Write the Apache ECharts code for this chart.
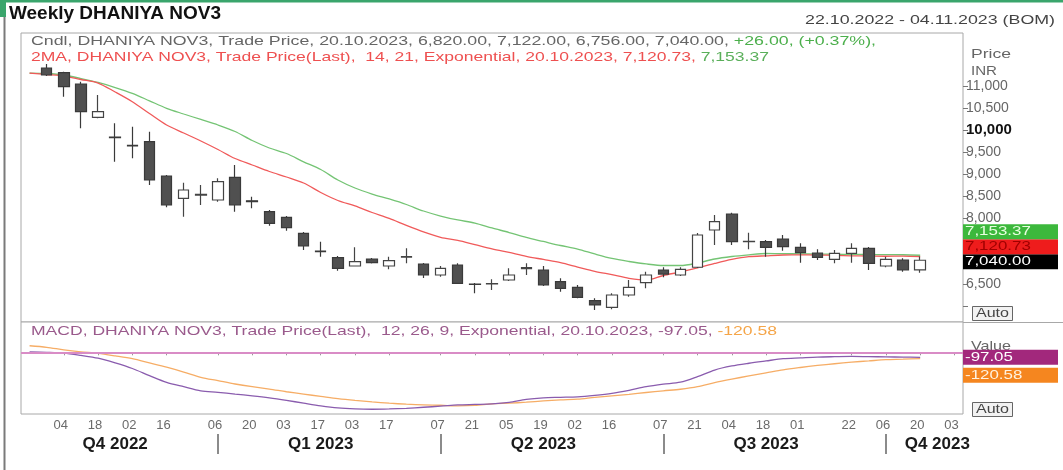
<!DOCTYPE html>
<html><head><meta charset="utf-8">
<script src="https://cdn.jsdelivr.net/npm/echarts@6/dist/echarts.min.js"></script>
<style>html,body{margin:0;padding:0;background:#fff;}#c{width:1063px;height:470px;}</style>
</head><body><div id="c"></div>
<script>
// ---------- DATA ----------
const categories = ['2022-10-21','2022-10-28','2022-11-04','2022-11-11','2022-11-18','2022-11-25','2022-12-02','2022-12-09','2022-12-16','2022-12-23','2022-12-30','2023-01-06','2023-01-13','2023-01-20','2023-01-27','2023-02-03','2023-02-10','2023-02-17','2023-02-24','2023-03-03','2023-03-10','2023-03-17','2023-03-24','2023-03-31','2023-04-07','2023-04-14','2023-04-21','2023-04-28','2023-05-05','2023-05-12','2023-05-19','2023-05-26','2023-06-02','2023-06-09','2023-06-16','2023-06-23','2023-06-30','2023-07-07','2023-07-14','2023-07-21','2023-07-28','2023-08-04','2023-08-11','2023-08-18','2023-08-25','2023-09-01','2023-09-08','2023-09-15','2023-09-22','2023-09-29','2023-10-06','2023-10-13','2023-10-20','2023-10-27','2023-11-03'];
// weekly candles, from 2022-10-28 to 2023-10-20
const candleOpen  = [11409,11303,11046,10289,9840,9650,9734,8955,8448,8520,8409,8925,8390,8143,8016,7652,7250,7098,6909,7068,6909,7110,6954,6704,6932,6500,6500,6591,6850,6818,6552,6425,6120,5970,6250,6530,6818,6704,6880,7727,8091,7461,7461,7523,7334,7200,7061,7198,7311,6909,7045,6820];
const candleClose = [11250,10985,10416,10416,9825,9640,8864,8295,8636,8535,8825,8295,8370,7879,7780,7364,7235,6857,7007,6984,7030,7125,6704,6857,6516,6490,6510,6704,6870,6477,6402,6198,6023,6250,6425,6704,6725,6834,7614,7916,7461,7470,7334,7348,7211,7107,7198,7311,6970,7061,6818,7040];
const candleLow   = [11227,10758,10039,10266,9280,9357,8750,8243,8030,8295,8371,8143,8220,7825,7712,7273,7120,6802,6898,6966,6834,6970,6636,6666,6500,6289,6364,6568,6704,6454,6325,6175,5909,5925,6211,6402,6652,6682,6864,7386,7386,7289,7120,7257,6984,7045,6970,6984,6818,6880,6780,6756];
const candleHigh  = [11500,11325,11098,10796,10152,10075,9962,8977,8802,8750,8902,9205,8484,8182,8045,7682,7461,7136,7334,7091,7120,7311,6977,6909,6970,6523,6607,6857,6970,6909,6630,6477,6175,6289,6591,6780,6880,6880,7659,8068,8120,7666,7500,7614,7425,7289,7273,7425,7341,7120,7084,7122];
const candleStart = 1; // category index of the first candle
// moving averages, from 2022-10-21 to 2023-10-20
const ema14 = [11295,11261,11227,11148,11068,10864,10643,10375,10114,9932,9750,9557,9352,9205,9057,8932,8795,8580,8398,8273,8125,7989,7830,7682,7561,7489,7395,7300,7216,7130,7057,6984,6886,6789,6711,6630,6591,6693,6773,6864,6966,7057,7120,7141,7159,7160,7158,7150,7140,7136,7130,7133,7120.73];
const ema21 = [11295,11284,11250,11170,11080,10966,10834,10664,10493,10364,10239,10114,9966,9761,9591,9466,9277,9102,8864,8682,8545,8432,8307,8159,8045,7955,7886,7773,7670,7557,7466,7375,7295,7182,7080,7011,6955,6920,6920,6977,7068,7125,7164,7193,7190,7185,7180,7176,7172,7170,7168,7165,7153.37];
const macdLine = [6,0,-14,-59,-114,-206,-314,-452,-583,-668,-747,-776,-812,-845,-884,-933,-988,-1041,-1081,-1100,-1106,-1100,-1087,-1067,-1047,-1022,-1012,-1002,-972,-914,-884,-874,-864,-835,-796,-737,-668,-619,-580,-472,-344,-265,-212,-167,-124,-108,-92,-85,-80,-84,-88,-93,-97.05];
const signalLine = [128,98,49,10,-20,-69,-124,-206,-289,-383,-485,-550,-615,-668,-713,-766,-812,-855,-898,-933,-963,-988,-1008,-1022,-1028,-1041,-1032,-1002,-988,-969,-943,-923,-910,-874,-845,-815,-780,-747,-717,-668,-589,-521,-458,-399,-340,-295,-255,-222,-191,-167,-143,-134,-120.58];
const priceTickValues = [6000,6500,8000,8500,9000,9500,10000,10500,11000];
const priceLabelValues = [6500,8000,8500,9000,9500,10000,10500,11000];
const dateLabels = ['2022-11-04','2022-11-18','2022-12-02','2022-12-16','2023-01-06','2023-01-20','2023-02-03','2023-02-17','2023-03-03','2023-03-17','2023-04-07','2023-04-21','2023-05-05','2023-05-19','2023-06-02','2023-06-16','2023-07-07','2023-07-21','2023-08-04','2023-08-18','2023-09-01','2023-09-22','2023-10-06','2023-10-20','2023-11-03'];
const quarterLabelDates = ['2022-11-25','2023-02-17','2023-05-19','2023-08-18','2023-10-27'];
const quarterLabelTexts = ['Q4 2022','Q1 2023','Q2 2023','Q3 2023','Q4 2023'];
const quarterStarts = ['2023-01-06','2023-04-07','2023-07-07','2023-10-06'];
const priceBoxes = [ {v:7040.00, text:'7,040.00', bg:'#000000', fg:'#ffffff'},
                     {v:7120.73, text:'7,120.73', bg:'#ee1c1c', fg:'#a00000'},
                     {v:7153.37, text:'7,153.37', bg:'#3cb83c', fg:'#e8ffe0'} ];
const macdBoxes = [ {v:-97.05, text:'-97.05', bg:'#a2287c', fg:'#ffffff'},
                    {v:-120.58, text:'-120.58', bg:'#f5861f', fg:'#fff2e0'} ];
const legend1 = [['Cndl, DHANIYA NOV3, Trade Price, 20.10.2023, 6,820.00, 7,122.00, 6,756.00, 7,040.00, ', '#666666'], ['+26.00, (+0.37%),', '#4caf4c']];
const legend2 = [['2MA, DHANIYA NOV3, Trade Price(Last),  14, 21, Exponential, 20.10.2023, 7,120.73, ', '#ee5050'], ['7,153.37', '#5aaf5a']];
const legend3 = [['MACD, DHANIYA NOV3, Trade Price(Last),  12, 26, 9, Exponential, 20.10.2023, -97.05, ', '#9a5a8c'], ['-120.58', '#f5a548']];

// ---------- CHART ----------
const FONT = '"Liberation Sans", Arial, sans-serif';
const chart = echarts.init(document.getElementById('c'));
const ctx = document.createElement('canvas').getContext('2d');
function measure(text, size, weight) { ctx.font = (weight || 'normal') + ' ' + size + 'px ' + FONT; return ctx.measureText(text).width; }
function richText(id, x, y, parts, size, targetW, weight, align, z) {
  const full = parts.map(p => p[0]).join('');
  const w = measure(full, size, weight);
  const rich = {}; let s = '';
  parts.forEach((p, i) => { rich['p' + i] = {fill: p[1], fontSize: size, fontFamily: FONT, fontWeight: weight || 'normal'}; s += '{p' + i + '|' + p[0] + '}'; });
  return {type: 'text', id, x, y, scaleX: targetW ? targetW / w : 1, z: z || 50,
    style: {text: s, rich, fontSize: size, fontFamily: FONT, fontWeight: weight || 'normal', verticalAlign: 'middle', align: align || 'left'}};
}

const candleData = categories.map((d, k) => {
  const i = k - candleStart;
  return (i >= 0 && i < candleOpen.length) ? [candleOpen[i], candleClose[i], candleLow[i], candleHigh[i]] : '-';
});
const pad = arr => categories.map((d, k) => k < arr.length ? arr[k] : '-');

const GL = 21, GW = 942;
const option = {
  animation: false,
  backgroundColor: '#ffffff',
  textStyle: {fontFamily: FONT},
  grid: [
    {left: GL, top: 33, width: GW, height: 289, show: true, borderColor: '#a8a8a8', borderWidth: 1, backgroundColor: '#fff'},
    {left: GL, top: 322, width: GW, height: 92, show: true, borderColor: '#a8a8a8', borderWidth: 1, backgroundColor: '#fff'}
  ],
  xAxis: [
    {type: 'category', gridIndex: 0, data: categories, boundaryGap: true, show: false},
    {type: 'category', gridIndex: 1, data: categories, boundaryGap: true,
      axisLine: {show: false},
      axisTick: {show: true, alignWithLabel: true, length: 3, lineStyle: {color: '#999'}, interval: (i, v) => dateLabels.includes(v)},
      axisLabel: {interval: (i, v) => dateLabels.includes(v), formatter: v => v.slice(8), color: '#6a6a6a', fontSize: 13, margin: 5, padding: [0, 6, 0, 0]},
      splitLine: {show: false}},
    {type: 'category', gridIndex: 1, data: categories, boundaryGap: true, position: 'bottom', offset: 20,
      axisLine: {show: false},
      axisTick: {show: true, alignWithLabel: true, inside: false, length: 20, lineStyle: {color: '#666', width: 1.5}, interval: (i, v) => quarterStarts.includes(v)},
      axisLabel: {interval: (i, v) => quarterLabelDates.includes(v), formatter: v => quarterLabelTexts[quarterLabelDates.indexOf(v)], color: '#1a1a1a', fontSize: 17, fontWeight: 'bold', margin: 2},
      splitLine: {show: false}}
  ],
  yAxis: [
    {type: 'value', gridIndex: 0, position: 'right', min: 5636, max: 12205,
      axisLine: {show: false}, splitLine: {show: false},
      axisTick: {show: true, length: 5, lineStyle: {color: '#777'}, customValues: priceTickValues},
      axisLabel: {customValues: priceLabelValues, margin: 3, color: '#666', fontSize: 14,
        formatter: v => v === 10000 ? '{b|10,000}' : v.toLocaleString('en-US'),
        rich: {b: {fontWeight: 'bold', color: '#111', fontSize: 15, fontFamily: FONT}}}},
    {type: 'value', gridIndex: 1, position: 'right', min: -1198, max: 589,
      axisLine: {show: false}, splitLine: {show: false}, axisTick: {show: false}, axisLabel: {show: false}}
  ],
  series: [
    {type: 'candlestick', name: 'Cndl', xAxisIndex: 0, yAxisIndex: 0, data: candleData, barWidth: 11,
      itemStyle: {color: '#ffffff', color0: '#505050', borderColor: '#444', borderColor0: '#3a3a3a', borderWidth: 1.2}},
    {type: 'line', name: 'EMA21', xAxisIndex: 0, yAxisIndex: 0, data: pad(ema21), showSymbol: false, smooth: 0.3,
      lineStyle: {color: '#74c474', width: 1.3}, z: 1},
    {type: 'line', name: 'EMA14', xAxisIndex: 0, yAxisIndex: 0, data: pad(ema14), showSymbol: false, smooth: 0.3,
      lineStyle: {color: '#f05a5a', width: 1.3}, z: 1},
    {type: 'line', name: 'Signal', xAxisIndex: 1, yAxisIndex: 1, data: pad(signalLine), showSymbol: false, smooth: 0.3,
      lineStyle: {color: '#f6ad66', width: 1.3}},
    {type: 'line', name: 'MACD', xAxisIndex: 1, yAxisIndex: 1, data: pad(macdLine), showSymbol: false, smooth: 0.3,
      lineStyle: {color: '#8a5cae', width: 1.3},
      markLine: {silent: true, symbol: 'none', label: {show: false}, lineStyle: {color: '#d98cc6', width: 2, type: 'solid'}, data: [{yAxis: 0}]}}
  ],
  graphic: [
    {type: 'rect', id: 'gtop', shape: {x: 0, y: 0, width: 1063, height: 2.5}, style: {fill: '#3aa56c'}, z: 60},
    {type: 'rect', id: 'gleft', shape: {x: 0, y: 0, width: 6, height: 17}, style: {fill: '#3aa56c'}, z: 60},
    {type: 'line', id: 'lframe', shape: {x1: 4.5, y1: 17, x2: 4.5, y2: 470}, style: {stroke: '#7a7a7a', lineWidth: 2}, z: 60},
    {type: 'line', id: 'sep', shape: {x1: 963, y1: 322.5, x2: 1063, y2: 322.5}, style: {stroke: '#a8a8a8', lineWidth: 1}, z: 60},
    richText('title', 9, 14, [['Weekly DHANIYA NOV3', '#111']], 18, 212, 'bold'),
    richText('range', 1055, 20, [['22.10.2022 - 04.11.2023 (BOM)', '#444']], 13, 250, 'normal', 'right'),
    richText('leg1', 31, 41, legend1, 13, 845),
    richText('leg2', 31, 57, legend2, 13, 738),
    richText('leg3', 31, 331, legend3, 13, 746),
    richText('pr', 971, 54, [['Price', '#666']], 13, 40),
    richText('inr', 971, 71, [['INR', '#666']], 13, 26),
    richText('val', 971, 346, [['Value', '#666']], 13, 40),
    {type: 'rect', id: 'auto1', shape: {x: 972.5, y: 306.5, width: 40, height: 14}, style: {fill: '#f2f2f2', stroke: '#666', lineWidth: 1}, z: 55},
    richText('auto1t', 992.5, 314, [['Auto', '#444']], 12, 33, 'normal', 'center', 58),
    {type: 'rect', id: 'auto2', shape: {x: 972.5, y: 402.5, width: 40, height: 14}, style: {fill: '#f2f2f2', stroke: '#666', lineWidth: 1}, z: 55},
    richText('auto2t', 992.5, 410, [['Auto', '#444']], 12, 33, 'normal', 'center', 58)
  ]
};
chart.setOption(option);

function stackBoxes(items, axisIndex, dir, step, prefix, shift) {
  const els = []; let prev = null;
  items.forEach((it, i) => {
    let cy = chart.convertToPixel({yAxisIndex: axisIndex}, it.v) + shift;
    if (prev !== null) cy = dir < 0 ? Math.min(cy, prev - step) : Math.max(cy, prev + step);
    prev = cy;
    els.push({type: 'rect', id: prefix + 'r' + i, shape: {x: 963, y: cy - 7.5, width: 95, height: 15}, style: {fill: it.bg}, z: 70});
    els.push(richText(prefix + 't' + i, 965, cy, [[it.text, it.fg]], 13, measure(it.text, 13) * 1.3, 'normal', 'left', 71));
  });
  return els;
}
chart.setOption({graphic: [...stackBoxes(priceBoxes, 0, -1, 15, 'pb', 1.5), ...stackBoxes(macdBoxes, 1, 1, 18, 'mb', 0)]});
</script>
</body></html>
